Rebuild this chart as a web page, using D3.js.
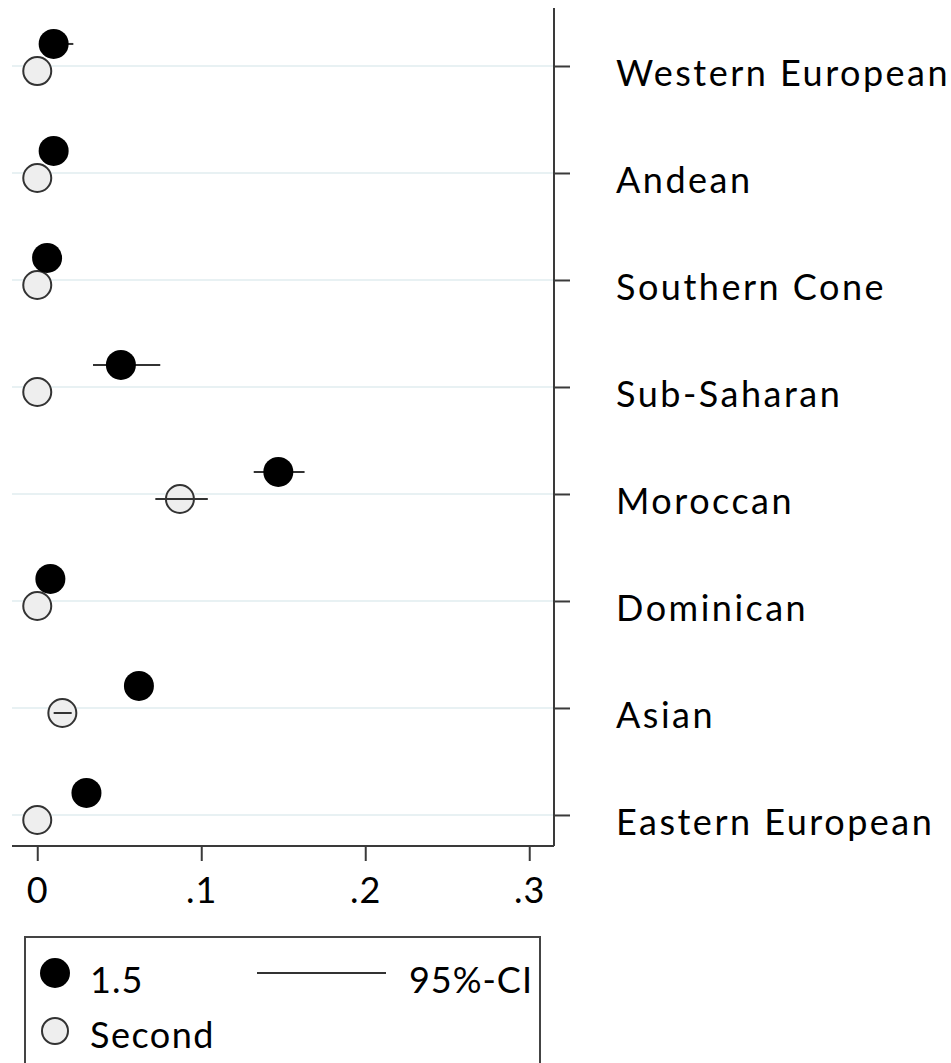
<!DOCTYPE html>
<html>
<head>
<meta charset="utf-8">
<script src="https://cdn.jsdelivr.net/npm/d3@7"></script>
<style>
  html, body { margin: 0; padding: 0; background: #fff; }
  svg text { font-family: Lato, "Open Sans", sans-serif; fill: #000; }
</style>
</head>
<body>
<svg id="chart" width="951" height="1063"></svg>
<script>
// Origin groups, top to bottom
const categories = ["Western European", "Andean", "Southern Cone", "Sub-Saharan",
                    "Moroccan", "Dominican", "Asian", "Eastern European"];

// "1.5" generation estimates with 95% confidence bounds
const firstEst = [0.010, 0.010, 0.006, 0.051, 0.147, 0.008, 0.062, 0.030];
const firstLo  = [0.003, 0.004, 0.002, 0.034, 0.132, 0.003, 0.055, 0.024];
const firstHi  = [0.022, 0.016, 0.011, 0.075, 0.163, 0.013, 0.069, 0.036];

// Second generation estimates with 95% confidence bounds
const secondEst = [0, 0, 0, 0, 0.087, 0, 0.0153, 0];
const secondLo  = [0, 0, 0, 0, 0.072, 0, 0.010, 0];
const secondHi  = [0, 0, 0, 0, 0.104, 0, 0.021, 0];

const xTicks = [0, 0.1, 0.2, 0.3];
const xTickLabels = ["0", ".1", ".2", ".3"];

const seriesLabels = ["1.5", "Second"];
const ciLabel = "95%-CI";

// ---- layout ----
const svg = d3.select("#chart");
const plot = { left: 12, right: 554, top: 8, bottom: 846 };

const x = d3.scaleLinear()
  .domain([-0.0154, 0.3151])
  .range([plot.left, plot.right]);

// category index -> vertical position (slots extend a little beyond first/last)
const y = d3.scaleLinear()
  .domain([-0.542, 7.29])
  .range([plot.top, plot.bottom]);

const offFirst = -0.206;   // "1.5" marker sits above the gridline
const offSecond = 0.047;   // second-generation marker sits just below it

const axisColor = "#3a3a3a";
const gridColor = "#e8f1f3";

// gridlines
svg.append("g").selectAll("line")
  .data(categories)
  .join("line")
  .attr("x1", plot.left).attr("x2", plot.right)
  .attr("y1", (d, i) => y(i)).attr("y2", (d, i) => y(i))
  .attr("stroke", gridColor).attr("stroke-width", 2);

// right axis with category labels
const yAxis = d3.axisRight(y)
  .tickValues(d3.range(categories.length))
  .tickFormat(i => categories[i])
  .tickSize(16)
  .tickPadding(46);

const gy = svg.append("g")
  .attr("transform", `translate(${plot.right},0)`)
  .call(yAxis);
gy.select(".domain").attr("stroke", axisColor).attr("stroke-width", 2)
  .attr("d", `M0,${plot.top}V${plot.bottom}`);
gy.selectAll(".tick line").attr("stroke", axisColor).attr("stroke-width", 2);
gy.selectAll(".tick text")
  .attr("font-size", 36)
  .attr("letter-spacing", "2.5px")
  .attr("dy", "0.55em")
  .attr("fill", "#000");

// bottom axis
const xAxis = d3.axisBottom(x)
  .tickValues(xTicks)
  .tickFormat((d, i) => xTickLabels[i])
  .tickSize(15)
  .tickPadding(16);

const gx = svg.append("g")
  .attr("transform", `translate(0,${plot.bottom})`)
  .call(xAxis);
gx.select(".domain").attr("stroke", axisColor).attr("stroke-width", 2)
  .attr("d", `M${plot.left},0H${plot.right}`);
gx.selectAll(".tick line").attr("stroke", axisColor).attr("stroke-width", 2);
gx.selectAll(".tick text")
  .attr("font-size", 36)
  .attr("letter-spacing", "1px")
  .attr("fill", "#000");

// second-generation markers
svg.append("g").selectAll("circle")
  .data(secondEst)
  .join("circle")
  .attr("cx", d => x(d))
  .attr("cy", (d, i) => y(i + offSecond))
  .attr("r", 14)
  .attr("fill", "#eeeeee")
  .attr("stroke", "#333")
  .attr("stroke-width", 2);

// confidence intervals (cross the open markers, hidden under the solid ones)
const ci = svg.append("g").attr("stroke", "#333").attr("stroke-width", 2);
ci.selectAll("line.first")
  .data(firstEst)
  .join("line")
  .attr("class", "first")
  .attr("x1", (d, i) => x(firstLo[i]))
  .attr("x2", (d, i) => x(firstHi[i]))
  .attr("y1", (d, i) => y(i + offFirst))
  .attr("y2", (d, i) => y(i + offFirst));
ci.selectAll("line.second")
  .data(secondEst)
  .join("line")
  .attr("class", "second")
  .attr("x1", (d, i) => x(secondLo[i]))
  .attr("x2", (d, i) => x(secondHi[i]))
  .attr("y1", (d, i) => y(i + offSecond))
  .attr("y2", (d, i) => y(i + offSecond));

// "1.5" markers
svg.append("g").selectAll("circle")
  .data(firstEst)
  .join("circle")
  .attr("cx", d => x(d))
  .attr("cy", (d, i) => y(i + offFirst))
  .attr("r", 15)
  .attr("fill", "#000");

// legend
const lg = svg.append("g");
lg.append("rect")
  .attr("x", 25).attr("y", 937)
  .attr("width", 515).attr("height", 160)
  .attr("fill", "#fff")
  .attr("stroke", "#444").attr("stroke-width", 2);

lg.append("circle").attr("cx", 55).attr("cy", 973).attr("r", 15).attr("fill", "#000");
lg.append("text").attr("x", 90).attr("y", 993).attr("font-size", 36)
  .attr("letter-spacing", "1px").text(seriesLabels[0]);

lg.append("line").attr("x1", 257).attr("x2", 386).attr("y1", 973).attr("y2", 973)
  .attr("stroke", "#333").attr("stroke-width", 2);
lg.append("text").attr("x", 533).attr("y", 993).attr("font-size", 36)
  .attr("letter-spacing", "1px").attr("text-anchor", "end").text(ciLabel);

lg.append("circle").attr("cx", 55).attr("cy", 1031).attr("r", 13)
  .attr("fill", "#eeeeee").attr("stroke", "#333").attr("stroke-width", 2);
lg.append("text").attr("x", 90).attr("y", 1048).attr("font-size", 36)
  .attr("letter-spacing", "1.5px").text(seriesLabels[1]);
</script>
</body>
</html>
